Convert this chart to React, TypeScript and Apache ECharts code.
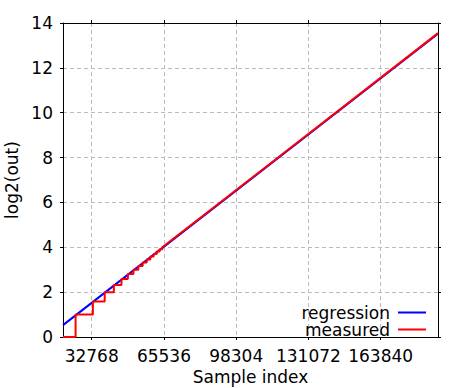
import React, { useEffect, useRef } from "react";
import * as echarts from "echarts";

const X_MIN = 19743;
const X_MAX = 189845;
const xTickValues = [32768, 65536, 98304, 131072, 163840];

const regressionX = [19743, 189845];
const regressionY = [0.53, 13.52];

const measuredX = [
  19743, 25450, 25450, 33300, 33300, 38650, 38650, 42814, 42814, 46258, 46258,
  49170, 49170, 51692, 51692, 53917, 53917, 55907, 55907, 57708, 57708, 59352,
  59352, 60863, 60863, 62264, 62264, 63567, 63567, 64786, 64786, 90000, 130000,
  189845,
];
const measuredY = [
  0, 0, 1, 1, 1.585, 1.585, 2, 2, 2.322, 2.322, 2.585, 2.585, 2.807, 2.807, 3,
  3, 3.17, 3.17, 3.322, 3.322, 3.459, 3.459, 3.585, 3.585, 3.7, 3.7, 3.807,
  3.807, 3.907, 3.907, 4, 5.92, 8.97, 13.55,
];

const FONT = "DejaVu Sans";

export default function App() {
  const ref = useRef<HTMLDivElement>(null);
  useEffect(() => {
    if (!ref.current) return;
    const chart = echarts.init(ref.current, null, { renderer: "svg" });
    const grid = {
      left: 63,
      top: 23,
      width: 375,
      height: 314,
      containLabel: false,
      outerBoundsMode: "none",
    };
    const gridLine = {
      show: true,
      lineStyle: { color: "#bbbbbb", width: 1, type: [4, 3] as any },
    };
    const plain = (v: number) => String(v);
    chart.setOption({
      animation: false,
      backgroundColor: "#ffffff",
      textStyle: { fontFamily: FONT },
      grid,
      legend: {
        data: ["regression", "measured"],
        orient: "vertical",
        align: "right",
        right: 46,
        top: 304,
        padding: 0,
        itemGap: 0,
        itemWidth: 28,
        itemHeight: 2,
        icon: "rect",
        textStyle: {
          fontFamily: FONT,
          fontSize: 17,
          color: "#000",
          lineHeight: 13.5,
          padding: [0, 3, 0, 0],
        },
      },
      xAxis: [
        {
          type: "value",
          min: X_MIN,
          max: X_MAX,
          name: "Sample index",
          nameLocation: "middle",
          nameGap: 31,
          nameTextStyle: { fontFamily: FONT, fontSize: 17, color: "#000" },
          axisLine: { show: true, onZero: false, lineStyle: { color: "#000", width: 1 } },
          axisTick: { show: true, inside: false, length: 3, customValues: xTickValues, lineStyle: { color: "#000" } },
          axisLabel: {
            customValues: xTickValues,
            formatter: plain,
            margin: 10,
            fontFamily: FONT,
            fontSize: 17,
            color: "#000",
          },
          splitLine: gridLine,
        },
        {
          type: "value",
          position: "top",
          min: X_MIN,
          max: X_MAX,
          axisLine: { show: true, onZero: false, lineStyle: { color: "#000", width: 1 } },
          axisTick: { show: true, inside: false, length: 3, customValues: xTickValues, lineStyle: { color: "#000" } },
          axisLabel: { show: false },
          splitLine: { show: false },
        },
      ],
      yAxis: [
        {
          type: "value",
          min: 0,
          max: 14,
          interval: 2,
          name: "log2(out)",
          nameLocation: "middle",
          nameGap: 41,
          nameTextStyle: { fontFamily: FONT, fontSize: 17, color: "#000" },
          axisLine: { show: true, onZero: false, lineStyle: { color: "#000", width: 1 } },
          axisTick: { show: true, inside: false, length: 3, lineStyle: { color: "#000" } },
          axisLabel: { margin: 10, fontFamily: FONT, fontSize: 17, color: "#000" },
          splitLine: gridLine,
        },
        {
          type: "value",
          position: "right",
          min: 0,
          max: 14,
          interval: 2,
          axisLine: { show: true, onZero: false, lineStyle: { color: "#000", width: 1 } },
          axisTick: { show: true, inside: false, length: 3, lineStyle: { color: "#000" } },
          axisLabel: { show: false },
          splitLine: { show: false },
        },
      ],
      series: [
        {
          name: "regression",
          type: "line",
          symbol: "none",
          lineStyle: { color: "#0000ff", width: 2 },
          itemStyle: { color: "#0000ff" },
          data: regressionX.map((x, i) => [x, regressionY[i]]),
          z: 3,
        },
        {
          name: "measured",
          type: "line",
          symbol: "none",
          lineStyle: { color: "#ff0000", width: 2 },
          itemStyle: { color: "#ff0000" },
          data: measuredX.map((x, i) => [x, measuredY[i]]),
          z: 4,
        },
      ],
    });
    return () => chart.dispose();
  }, []);
  return (
    <div
      ref={ref}
      style={{ position: "fixed", left: 0, top: 0, width: 472, height: 388 }}
    />
  );
}
